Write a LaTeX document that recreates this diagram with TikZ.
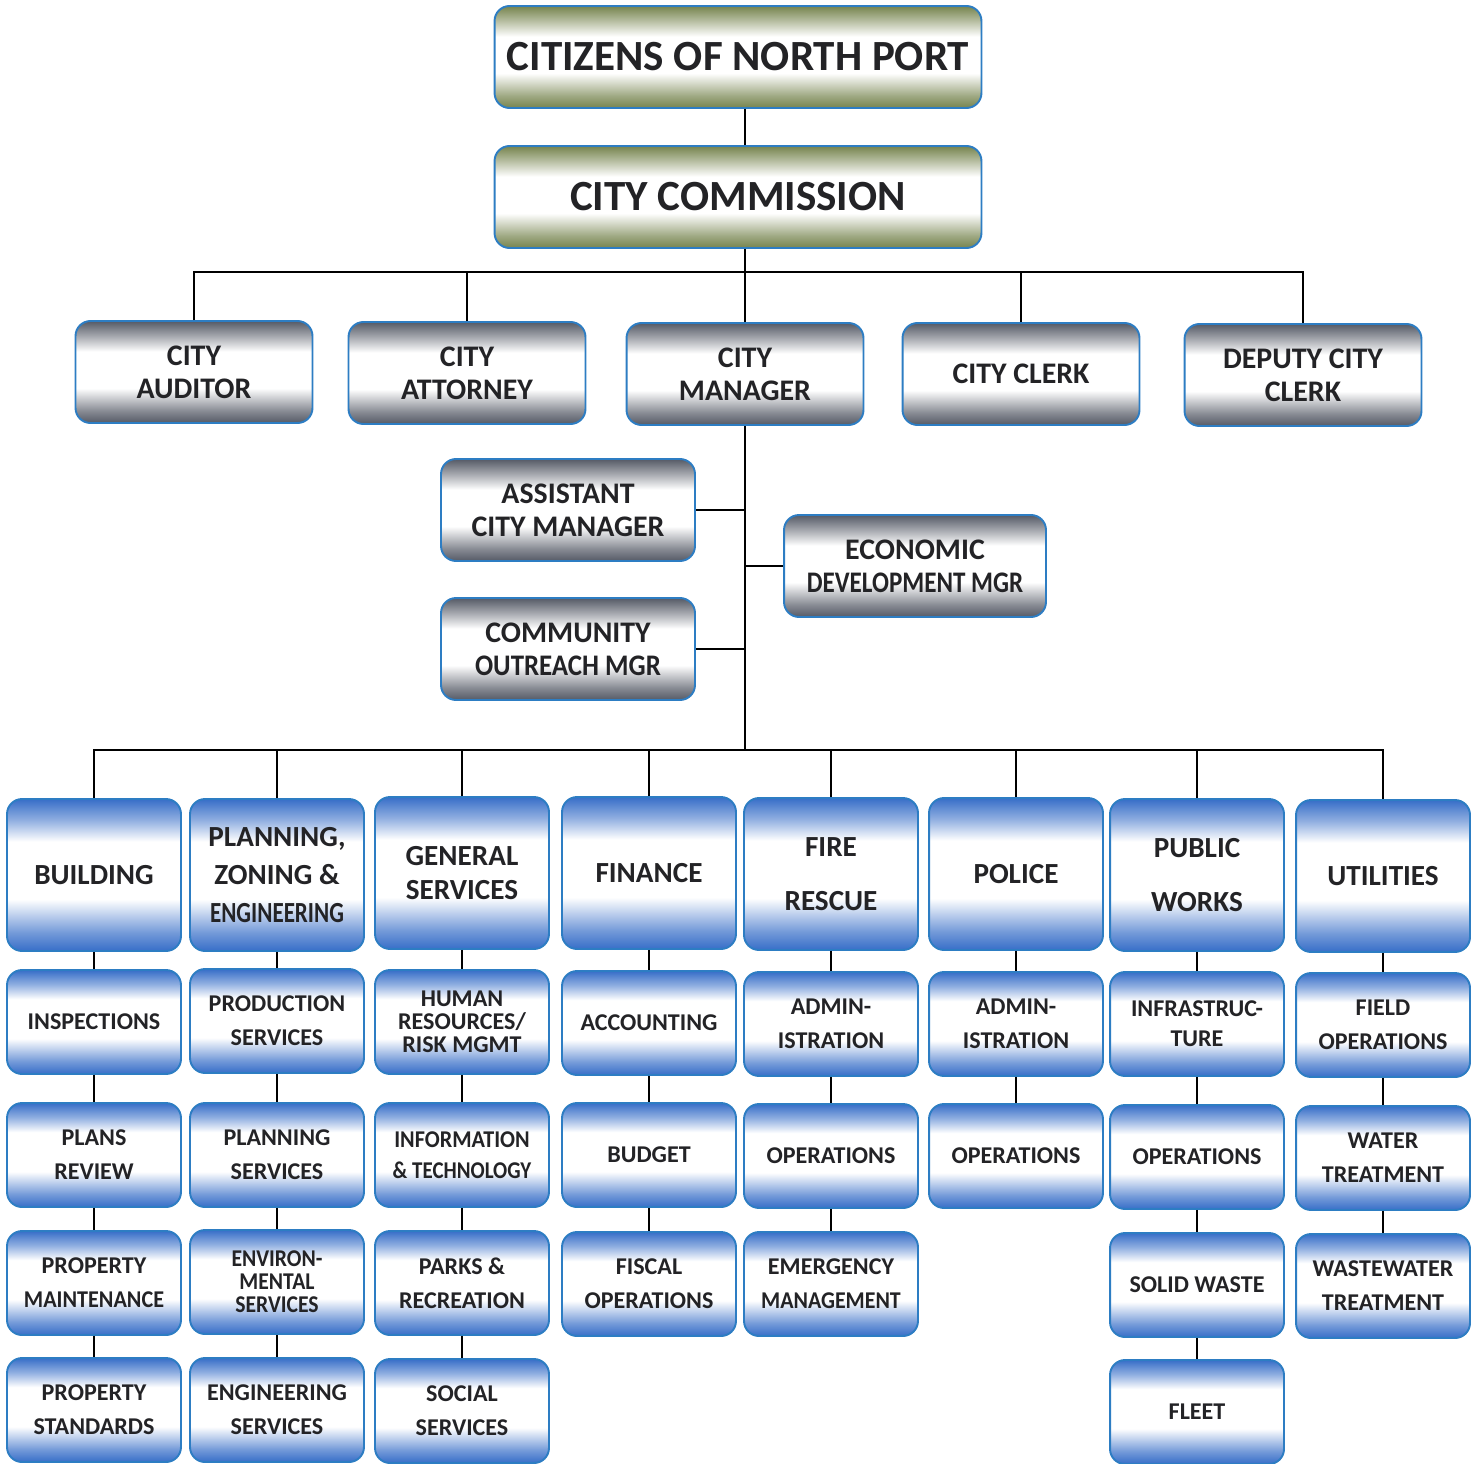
\documentclass[tikz,border=0pt]{standalone}
\usepackage{fontspec}
\setmainfont{Carlito}
\usepackage{xcolor}
\usepackage{tikz}

\definecolor{edgeblue}{RGB}{45,125,195}
\definecolor{deptblue}{RGB}{55,110,200}
\definecolor{officegray}{RGB}{85,90,102}
\definecolor{govgreen}{RGB}{118,132,78}
\definecolor{inkgray}{RGB}{35,35,38}

% vertical fades: dark edge, white middle band
\pgfdeclareverticalshading{deptshade}{100bp}{color(0bp)=(deptblue); color(25bp)=(deptblue);
  color(31bp)=(deptblue!70!white); color(42bp)=(white); color(61bp)=(white);
  color(68bp)=(deptblue!55!white); color(75bp)=(deptblue); color(100bp)=(deptblue)}
\pgfdeclareverticalshading{officeshade}{100bp}{color(0bp)=(officegray); color(25bp)=(officegray);
  color(31bp)=(officegray!70!white); color(42bp)=(white); color(60bp)=(white);
  color(68bp)=(officegray!55!white); color(75bp)=(officegray); color(100bp)=(officegray)}
\pgfdeclareverticalshading{govshade}{100bp}{color(0bp)=(govgreen); color(25bp)=(govgreen);
  color(31bp)=(govgreen!70!white); color(42bp)=(white); color(60bp)=(white);
  color(68bp)=(govgreen!55!white); color(75bp)=(govgreen); color(100bp)=(govgreen)}

\newcommand{\narrowtext}[2]{\scalebox{#1}[1]{#2}}

\begin{document}
\begin{tikzpicture}[x=0.02cm,y=-0.02cm,
  box/.style={draw=edgeblue, line width=1.1pt, rounded corners=0.3cm,
    align=center, text=inkgray, inner sep=1pt},
  govbox/.style={box, shading=govshade,
    minimum width=9.74cm, minimum height=2.04cm,
    font=\bfseries\fontsize{24.5}{28}\selectfont},
  officebox/.style={box, shading=officeshade,
    minimum width=4.74cm, minimum height=2.04cm,
    font=\bfseries\fontsize{17}{18.7}\selectfont},
  deptbox/.style={box, shading=deptshade,
    minimum width=3.48cm, minimum height=3.04cm,
    font=\bfseries\fontsize{16.6}{19}\selectfont},
  unitbox/.style={box, shading=deptshade,
    minimum width=3.48cm, minimum height=2.08cm,
    font=\bfseries\fontsize{13.7}{19.4}\selectfont},
  link/.style={line width=1pt, black}]

  \useasboundingbox (0,0) rectangle (1479,1463);

  % Citizens and commission
  \node[govbox] (citizens) at (738,57) {\raisebox{-0.1cm}{CITIZENS OF NORTH PORT}};
  \node[govbox] (commission) at (738,197) {CITY COMMISSION};

  % Offices under the commission
  \node[officebox] (auditor) at (194,372) {CITY\\AUDITOR};
  \node[officebox] (attorney) at (467,373) {CITY\\ATTORNEY};
  \node[officebox] (manager) at (745,374) {CITY\\MANAGER};
  \node[officebox] (clerk) at (1021,374) {CITY CLERK};
  \node[officebox] (deputy) at (1303,375) {DEPUTY CITY\\CLERK};

  % Staff of the city manager
  \node[officebox, minimum width=5.08cm] (asstmgr) at (568,510) {ASSISTANT\\CITY MANAGER};
  \node[officebox, minimum width=5.24cm] (econ) at (915,566) {ECONOMIC\\\narrowtext{0.84}{DEVELOPMENT MGR}};
  \node[officebox, minimum width=5.08cm] (outreach) at (568,649) {COMMUNITY\\\narrowtext{0.9}{OUTREACH MGR}};

  % Departments
  \node[deptbox] (building) at (94,875) {BUILDING};
  \node[deptbox] (planning) at (277,875) {PLANNING,\\[0.1cm]ZONING \&\\[0.1cm]\narrowtext{0.79}{ENGINEERING}};
  \node[deptbox] (general) at (462,873) {GENERAL\\SERVICES};
  \node[deptbox] (finance) at (649,873) {FINANCE};
  \node[deptbox] (fire) at (831,874) {FIRE\\[0.4cm]RESCUE};
  \node[deptbox] (police) at (1016,874) {POLICE};
  \node[deptbox] (works) at (1197,875) {PUBLIC\\[0.4cm]WORKS};
  \node[deptbox] (utilities) at (1383,876) {UTILITIES};

  % Building column
  \node[unitbox] (inspections) at (94,1022) {INSPECTIONS};
  \node[unitbox] (plansreview) at (94,1155) {PLANS\\REVIEW};
  \node[unitbox] (propmaint) at (94,1283) {PROPERTY\\\narrowtext{0.92}{MAINTENANCE}};
  \node[unitbox] (propstd) at (94,1410) {PROPERTY\\STANDARDS};

  % Planning column
  \node[unitbox] (production) at (277,1021) {PRODUCTION\\SERVICES};
  \node[unitbox] (planserv) at (277,1155) {PLANNING\\SERVICES};
  \node[unitbox, font=\bfseries\fontsize{13.7}{13}\selectfont] (environ) at (277,1282) {\narrowtext{0.9}{ENVIRON-}\\\narrowtext{0.9}{MENTAL}\\\narrowtext{0.9}{SERVICES}};
  \node[unitbox] (engserv) at (277,1410) {ENGINEERING\\SERVICES};

  % General services column
  \node[unitbox, font=\bfseries\fontsize{13.7}{13}\selectfont] (humanres) at (462,1022) {HUMAN\\RESOURCES/\\RISK MGMT};
  \node[unitbox, font=\bfseries\fontsize{13.7}{18}\selectfont] (infotech) at (462,1155) {\narrowtext{0.92}{INFORMATION}\\\narrowtext{0.87}{\& TECHNOLOGY}};
  \node[unitbox] (parks) at (462,1283) {PARKS \&\\RECREATION};
  \node[unitbox] (social) at (462,1411) {SOCIAL\\SERVICES};

  % Finance column
  \node[unitbox] (accounting) at (649,1023) {ACCOUNTING};
  \node[unitbox] (budget) at (649,1155) {BUDGET};
  \node[unitbox] (fiscal) at (649,1284) {FISCAL\\OPERATIONS};

  % Fire rescue column
  \node[unitbox] (fireadmin) at (831,1024) {ADMIN-\\ISTRATION};
  \node[unitbox] (fireops) at (831,1156) {OPERATIONS};
  \node[unitbox] (emergency) at (831,1284) {EMERGENCY\\\narrowtext{0.91}{MANAGEMENT}};

  % Police column
  \node[unitbox] (policeadmin) at (1016,1024) {ADMIN-\\ISTRATION};
  \node[unitbox] (policeops) at (1016,1156) {OPERATIONS};

  % Public works column
  \node[unitbox, font=\bfseries\fontsize{13.7}{17}\selectfont] (infra) at (1197,1024) {INFRASTRUC-\\TURE};
  \node[unitbox] (worksops) at (1197,1157) {OPERATIONS};
  \node[unitbox] (solidwaste) at (1197,1285) {SOLID WASTE};
  \node[unitbox] (fleet) at (1197,1412) {FLEET};

  % Utilities column
  \node[unitbox] (fieldops) at (1383,1025) {FIELD\\OPERATIONS};
  \node[unitbox] (water) at (1383,1158) {WATER\\TREATMENT};
  \node[unitbox] (wastewater) at (1383,1286) {WASTEWATER\\TREATMENT};

  % Top spine
  \draw[link] (citizens.south -| manager.north) -- (commission.north -| manager.north);
  \draw[link] (commission.south -| manager.north) -- (manager.north);

  % Bus to the offices
  \coordinate (officebus) at (745,272);
  \draw[link] (auditor.north) |- (officebus) -| (deputy.north);
  \draw[link] (attorney.north) -- (attorney.north |- officebus);
  \draw[link] (clerk.north) -- (clerk.north |- officebus);

  % Manager spine and staff
  \coordinate (deptbus) at (745,750);
  \draw[link] (manager.south) -- (manager.south |- deptbus);
  \draw[link] (asstmgr.east) -- (asstmgr.east -| manager.south);
  \draw[link] (outreach.east) -- (outreach.east -| manager.south);
  \draw[link] (econ.west) -- (econ.west -| manager.south);

  % Bus to the departments
  \draw[link] (building.north) |- (deptbus) -| (utilities.north);
  \draw[link] (planning.north) -- (planning.north |- deptbus);
  \draw[link] (general.north) -- (general.north |- deptbus);
  \draw[link] (finance.north) -- (finance.north |- deptbus);
  \draw[link] (fire.north) -- (fire.north |- deptbus);
  \draw[link] (police.north) -- (police.north |- deptbus);
  \draw[link] (works.north) -- (works.north |- deptbus);

  % Department columns
  \draw[link] (building) -- (inspections);
  \draw[link] (inspections) -- (plansreview);
  \draw[link] (plansreview) -- (propmaint);
  \draw[link] (propmaint) -- (propstd);
  \draw[link] (planning) -- (production);
  \draw[link] (production) -- (planserv);
  \draw[link] (planserv) -- (environ);
  \draw[link] (environ) -- (engserv);
  \draw[link] (general) -- (humanres);
  \draw[link] (humanres) -- (infotech);
  \draw[link] (infotech) -- (parks);
  \draw[link] (parks) -- (social);
  \draw[link] (finance) -- (accounting);
  \draw[link] (accounting) -- (budget);
  \draw[link] (budget) -- (fiscal);
  \draw[link] (fire) -- (fireadmin);
  \draw[link] (fireadmin) -- (fireops);
  \draw[link] (fireops) -- (emergency);
  \draw[link] (police) -- (policeadmin);
  \draw[link] (policeadmin) -- (policeops);
  \draw[link] (works) -- (infra);
  \draw[link] (infra) -- (worksops);
  \draw[link] (worksops) -- (solidwaste);
  \draw[link] (solidwaste) -- (fleet);
  \draw[link] (utilities) -- (fieldops);
  \draw[link] (fieldops) -- (water);
  \draw[link] (water) -- (wastewater);
\end{tikzpicture}
\end{document}
